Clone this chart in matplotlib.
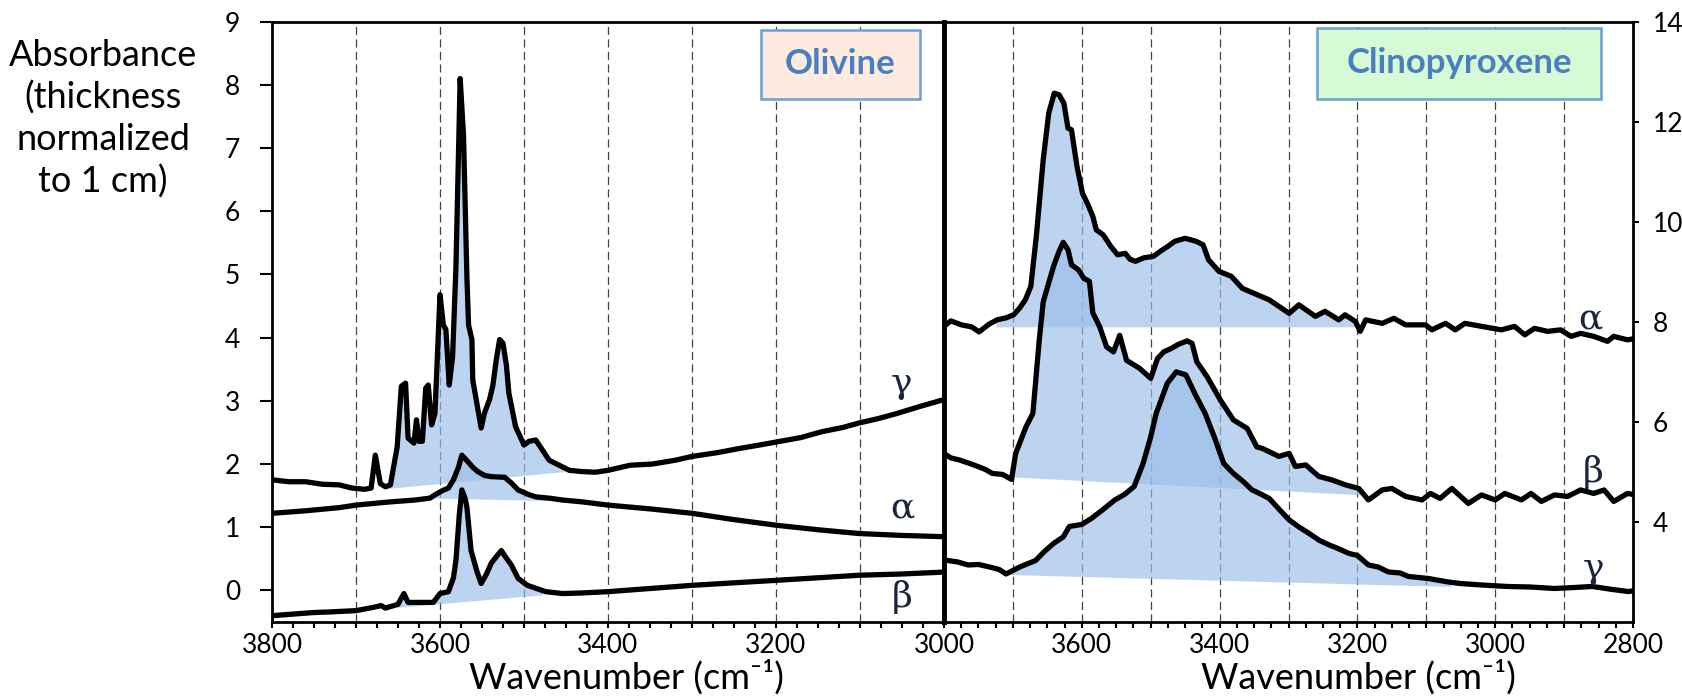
import numpy as np
import matplotlib
matplotlib.use("Agg")
import matplotlib.pyplot as plt
from matplotlib.ticker import MultipleLocator, FuncFormatter
from matplotlib.patches import Rectangle

# ---------------- data ----------------
# Olivine spectra (wavenumber cm-1, absorbance)
ol_gamma_wn = [3800, 3780, 3760, 3740, 3720, 3705, 3690, 3682, 3677, 3671, 3665, 3659, 3651, 3646,
               3641, 3638, 3631, 3628, 3625, 3621, 3617, 3614, 3610, 3606, 3600, 3596, 3593, 3589,
               3585, 3581, 3576, 3572, 3568, 3566, 3562, 3561, 3551, 3547, 3541, 3537, 3533, 3529,
               3525, 3521, 3518, 3510, 3500, 3494, 3486, 3478, 3470, 3458, 3446, 3430, 3415, 3400,
               3374, 3347, 3320, 3300, 3270, 3242, 3220, 3199, 3170, 3146, 3120, 3101, 3078, 3056,
               3029, 3000]
ol_gamma_abs = [1.75, 1.72, 1.72, 1.68, 1.67, 1.62, 1.60, 1.62, 2.14, 1.69, 1.64, 1.67, 2.27, 3.23,
                3.28, 2.41, 2.33, 2.70, 2.36, 2.36, 3.20, 3.25, 2.62, 2.80, 4.68, 4.20, 4.13, 3.25,
                3.70, 5.13, 8.10, 7.20, 4.97, 4.20, 3.97, 3.33, 2.57, 2.81, 3.02, 3.25, 3.65, 3.97,
                3.91, 3.57, 3.12, 2.59, 2.30, 2.36, 2.38, 2.22, 2.06, 1.98, 1.90, 1.88, 1.87, 1.90,
                1.98, 2.00, 2.06, 2.12, 2.18, 2.25, 2.30, 2.35, 2.42, 2.51, 2.58, 2.65, 2.72, 2.80,
                2.91, 3.02]

ol_alpha_wn = [3800, 3760, 3720, 3700, 3660, 3630, 3612, 3605, 3597, 3590, 3584, 3578, 3574, 3567,
               3561, 3555, 3547, 3539, 3523, 3515, 3507, 3495, 3486, 3470, 3454, 3430, 3400, 3350,
               3300, 3250, 3199, 3150, 3101, 3050, 3000]
ol_alpha_abs = [1.22, 1.26, 1.31, 1.35, 1.40, 1.43, 1.46, 1.52, 1.58, 1.62, 1.75, 1.95, 2.14, 2.04,
                1.95, 1.88, 1.82, 1.80, 1.79, 1.70, 1.59, 1.52, 1.48, 1.46, 1.43, 1.40, 1.35, 1.29,
                1.22, 1.12, 1.03, 0.96, 0.90, 0.87, 0.85]

ol_beta_wn = [3800, 3770, 3750, 3730, 3700, 3680, 3670, 3665, 3650, 3643, 3638, 3620, 3608, 3600,
              3590, 3584, 3581, 3577, 3574, 3570, 3568, 3563, 3556, 3551, 3545, 3539, 3532, 3527,
              3523, 3515, 3507, 3496, 3474, 3454, 3430, 3400, 3350, 3300, 3250, 3199, 3150, 3101,
              3050, 3000]
ol_beta_abs = [-0.40, -0.37, -0.35, -0.34, -0.32, -0.27, -0.24, -0.28, -0.22, -0.05, -0.19, -0.19,
               -0.19, -0.05, -0.02, 0.20, 0.48, 1.20, 1.59, 1.45, 1.32, 0.63, 0.30, 0.11, 0.25, 0.43,
               0.55, 0.63, 0.55, 0.40, 0.19, 0.08, -0.02, -0.05, -0.04, -0.02, 0.03, 0.08, 0.12,
               0.16, 0.20, 0.24, 0.26, 0.29]

# Clinopyroxene spectra
cpx_alpha_wn = [3800, 3790, 3775, 3760, 3749, 3735, 3723, 3710, 3699, 3690, 3682, 3674, 3666, 3656,
                3648, 3640, 3633, 3626, 3620, 3615, 3607, 3599, 3592, 3584, 3579, 3569, 3558, 3548,
                3537, 3530, 3522, 3510, 3496, 3485, 3475, 3465, 3450, 3434, 3424, 3416, 3401, 3383,
                3367, 3357, 3328, 3299, 3285, 3261, 3247, 3227, 3218, 3203, 3196, 3188, 3164, 3147,
                3130, 3101, 3092, 3072, 3058, 3044, 3020, 2991, 2972, 2957, 2943, 2924, 2905, 2890,
                2876, 2857, 2837, 2828, 2808, 2800]
cpx_alpha_abs = [7.91, 8.02, 7.94, 7.90, 7.80, 7.95, 8.04, 8.08, 8.14, 8.28, 8.44, 8.71, 9.71, 11.24,
                 12.17, 12.57, 12.54, 12.37, 11.87, 11.84, 11.11, 10.57, 10.37, 10.11, 9.84, 9.74,
                 9.51, 9.34, 9.37, 9.25, 9.21, 9.28, 9.31, 9.42, 9.51, 9.61, 9.67, 9.61, 9.54, 9.24,
                 9.01, 8.91, 8.67, 8.61, 8.44, 8.17, 8.34, 8.11, 8.21, 8.04, 8.14, 8.01, 7.81, 8.04,
                 7.97, 8.07, 7.94, 7.94, 7.84, 7.97, 7.84, 7.97, 7.91, 7.84, 7.91, 7.74, 7.87, 7.81,
                 7.84, 7.71, 7.77, 7.71, 7.61, 7.71, 7.64, 7.66]

cpx_beta_wn = [3800, 3790, 3778, 3765, 3751, 3740, 3730, 3715, 3702, 3696, 3681, 3671, 3667, 3662,
               3656, 3641, 3633, 3627, 3620, 3615, 3605, 3597, 3589, 3584, 3574, 3564, 3554, 3545,
               3535, 3516, 3500, 3490, 3481, 3470, 3460, 3447, 3440, 3433, 3418, 3399, 3380, 3360,
               3346, 3338, 3314, 3299, 3290, 3275, 3256, 3237, 3217, 3198, 3184, 3164, 3150, 3130,
               3106, 3094, 3080, 3063, 3039, 3020, 3000, 2986, 2962, 2948, 2933, 2914, 2895, 2876,
               2857, 2842, 2828, 2808, 2800]
cpx_beta_abs = [5.37, 5.28, 5.24, 5.18, 5.11, 5.05, 4.97, 4.95, 4.85, 5.37, 5.90, 6.17, 6.80, 7.60,
                8.40, 9.11, 9.41, 9.59, 9.44, 9.14, 9.04, 8.87, 8.81, 8.18, 7.90, 7.50, 7.40, 7.73,
                7.23, 7.07, 6.87, 7.27, 7.40, 7.47, 7.55, 7.62, 7.57, 7.20, 6.90, 6.44, 6.04, 5.87,
                5.50, 5.47, 5.31, 5.37, 5.11, 5.14, 4.91, 4.84, 4.74, 4.67, 4.44, 4.64, 4.67, 4.51,
                4.44, 4.57, 4.47, 4.67, 4.37, 4.54, 4.44, 4.57, 4.44, 4.57, 4.41, 4.54, 4.51, 4.64,
                4.57, 4.64, 4.41, 4.57, 4.55]

cpx_gamma_wn = [3800, 3780, 3765, 3750, 3737, 3720, 3710, 3690, 3667, 3655, 3641, 3627, 3618, 3600,
                3586, 3570, 3552, 3538, 3524, 3511, 3500, 3492, 3476, 3463, 3449, 3435, 3421, 3408,
                3394, 3380, 3365, 3353, 3342, 3328, 3310, 3299, 3285, 3270, 3255, 3241, 3230, 3212,
                3200, 3184, 3170, 3155, 3138, 3126, 3097, 3085, 3068, 3051, 3020, 2982, 2950, 2914,
                2885, 2859, 2830, 2807, 2800]
cpx_gamma_abs = [3.24, 3.20, 3.14, 3.15, 3.11, 3.05, 2.96, 3.10, 3.23, 3.40, 3.57, 3.70, 3.91, 3.95,
                 4.07, 4.24, 4.44, 4.55, 4.71, 5.17, 5.70, 6.17, 6.77, 7.00, 6.94, 6.54, 6.17, 5.71,
                 5.17, 4.97, 4.80, 4.64, 4.57, 4.47, 4.20, 4.04, 3.90, 3.77, 3.63, 3.54, 3.48, 3.37,
                 3.33, 3.14, 3.10, 3.00, 2.98, 2.91, 2.87, 2.84, 2.80, 2.77, 2.74, 2.71, 2.70, 2.67,
                 2.69, 2.71, 2.65, 2.61, 2.62]

# Integration windows: (start wn, baseline abs) -> (end wn, baseline abs)
ol_gamma_band = [(3665, 1.61), (3452, 1.88)]
ol_alpha_band = [(3606, 1.46), (3465, 1.42)]
ol_beta_band = [(3652, -0.27), (3478, -0.07)]
cpx_alpha_band = [(3725, 7.90), (3190, 7.90)]
cpx_beta_band = [(3700, 4.90), (3190, 4.54)]
cpx_gamma_band = [(3708, 2.95), (3065, 2.71)]

# Polarisation labels: (symbol, wn, abs)
ol_labels = [("γ", 3050, 3.28), ("α", 3050, 1.30), ("β", 3050, -0.10)]
cpx_labels = [("α", 2862, 8.07), ("β", 2858, 5.00), ("γ", 2858, 3.08)]

ol_xlim = (3800, 3000)
cpx_xlim = (3800, 2800)
ol_ylim = (-0.5, 9)
cpx_ylim = (2, 14)
cpx_yticks = [4, 6, 8, 10, 12, 14]

# ---------------- style ----------------
SANS = ["Lato", "DejaVu Sans"]
SERIF = ["DejaVu Serif", "Liberation Serif"]
plt.rcParams["font.family"] = SANS
FILL = (154 / 255, 190 / 255, 232 / 255)
FILL_ALPHA = 0.65
GREEK = "#1c2540"
TITLE_BLUE = "#4a7ebf"
BOX_EDGE = "#6c9fd4"
TICK_FS = 19
LABEL_FS = 26
LINE_W = 3.8

W, H = 1683, 699
fig = plt.figure(figsize=(W / 100, H / 100), dpi=100)
bot = 1 - 622 / H
hgt = 600.3 / H
axL = fig.add_axes([272 / W, bot, 672 / W, hgt])
axR = fig.add_axes([944 / W, bot, 689 / W, hgt])


def fill_band(ax, wn, ab, band):
    wn = np.asarray(wn, float)
    ab = np.asarray(ab, float)
    (w0, b0), (w1, b1) = band
    lo, hi = min(w0, w1), max(w0, w1)
    b_lo, b_hi = (b1, b0) if w0 == hi else (b0, b1)
    m = (wn >= lo) & (wn <= hi)
    xs = np.concatenate([[hi], wn[m], [lo]])
    ys = np.interp(xs, wn[::-1], ab[::-1])
    base = np.interp(xs, [lo, hi], [b_lo, b_hi])
    ax.fill_between(xs, ys, base, color=FILL, alpha=FILL_ALPHA, lw=0, zorder=1)


def style_axes(ax, xlim, ylim, grid_x, label_every, side):
    ax.set_xlim(*xlim)
    ax.set_ylim(*ylim)
    for x in grid_x:
        ax.axvline(x, color="#444444", lw=0.9, ls=(0, (6.5, 3.5)), zorder=0.5)
    ax.xaxis.set_major_locator(MultipleLocator(100))
    ax.xaxis.set_minor_locator(MultipleLocator(25))
    ax.xaxis.set_major_formatter(FuncFormatter(label_every))
    ax.tick_params(axis="x", which="both", direction="out", length=4, width=1.5,
                   labelsize=TICK_FS, pad=4)
    for s in ax.spines.values():
        s.set_linewidth(2.0)
    if side == "left":
        ax.yaxis.set_major_locator(MultipleLocator(1))
        ax.tick_params(axis="y", direction="out", length=9, width=1.5,
                       labelsize=TICK_FS, pad=14)
    else:
        ax.set_yticks(cpx_yticks)
        ax.yaxis.tick_right()
        ax.tick_params(axis="y", direction="out", length=4, width=1.5,
                       labelsize=TICK_FS, pad=10)
        ax.spines["left"].set_linewidth(3.5)


def left_fmt(v, pos):
    v = int(round(v))
    return f"{v}" if v % 200 == 0 else ""


def right_fmt(v, pos):
    v = int(round(v))
    return f"{v}" if (v % 200 == 0 and v != 3800) else ""


style_axes(axL, ol_xlim, ol_ylim, range(3700, 3000, -100), left_fmt, "left")
style_axes(axR, cpx_xlim, cpx_ylim, range(3700, 2800, -100), right_fmt, "right")

# ---------------- spectra ----------------
for wn, ab, band in [(ol_gamma_wn, ol_gamma_abs, ol_gamma_band),
                     (ol_alpha_wn, ol_alpha_abs, ol_alpha_band),
                     (ol_beta_wn, ol_beta_abs, ol_beta_band)]:
    fill_band(axL, wn, ab, band)
    axL.plot(wn, ab, color="black", lw=LINE_W, solid_joinstyle="round", zorder=3)

for wn, ab, band in [(cpx_alpha_wn, cpx_alpha_abs, cpx_alpha_band),
                     (cpx_beta_wn, cpx_beta_abs, cpx_beta_band),
                     (cpx_gamma_wn, cpx_gamma_abs, cpx_gamma_band)]:
    fill_band(axR, wn, ab, band)
    axR.plot(wn, ab, color="black", lw=LINE_W, solid_joinstyle="round", zorder=3)

for ax, labels in [(axL, ol_labels), (axR, cpx_labels)]:
    for sym, x, y in labels:
        ax.text(x, y, sym, family=SERIF, fontsize=26, color=GREEK,
                ha="center", va="center", zorder=4)

# ---------------- mineral boxes ----------------
def mineral_box(ax, x0, x1, y0, y1, face, text):
    ax.add_patch(Rectangle((x0, y0), x1 - x0, y1 - y0, transform=ax.transAxes,
                           facecolor=face, edgecolor=BOX_EDGE, lw=1.8, zorder=5))
    ax.text((x0 + x1) / 2, (y0 + y1) / 2, text, transform=ax.transAxes,
            ha="center", va="center", fontsize=25, fontweight="bold",
            color=TITLE_BLUE, zorder=6)


mineral_box(axL, 0.727, 0.965, 0.871, 0.987, "#fdebe0", "Olivine")
mineral_box(axR, 0.542, 0.954, 0.872, 0.989, "#d5fad5", "Clinopyroxene")

# ---------------- axis titles ----------------
fig.text(626 / W, 1 - 677 / H, "Wavenumber (cm⁻¹)", ha="center", va="center",
         fontsize=LABEL_FS)
fig.text(1358 / W, 1 - 677 / H, "Wavenumber (cm⁻¹)", ha="center", va="center",
         fontsize=LABEL_FS)
fig.text(103 / W, 1 - 119 / H, "Absorbance\n(thickness\nnormalized\nto 1 cm)",
         ha="center", va="center", fontsize=LABEL_FS, linespacing=1.3)

fig.savefig("out.png", dpi=100)
